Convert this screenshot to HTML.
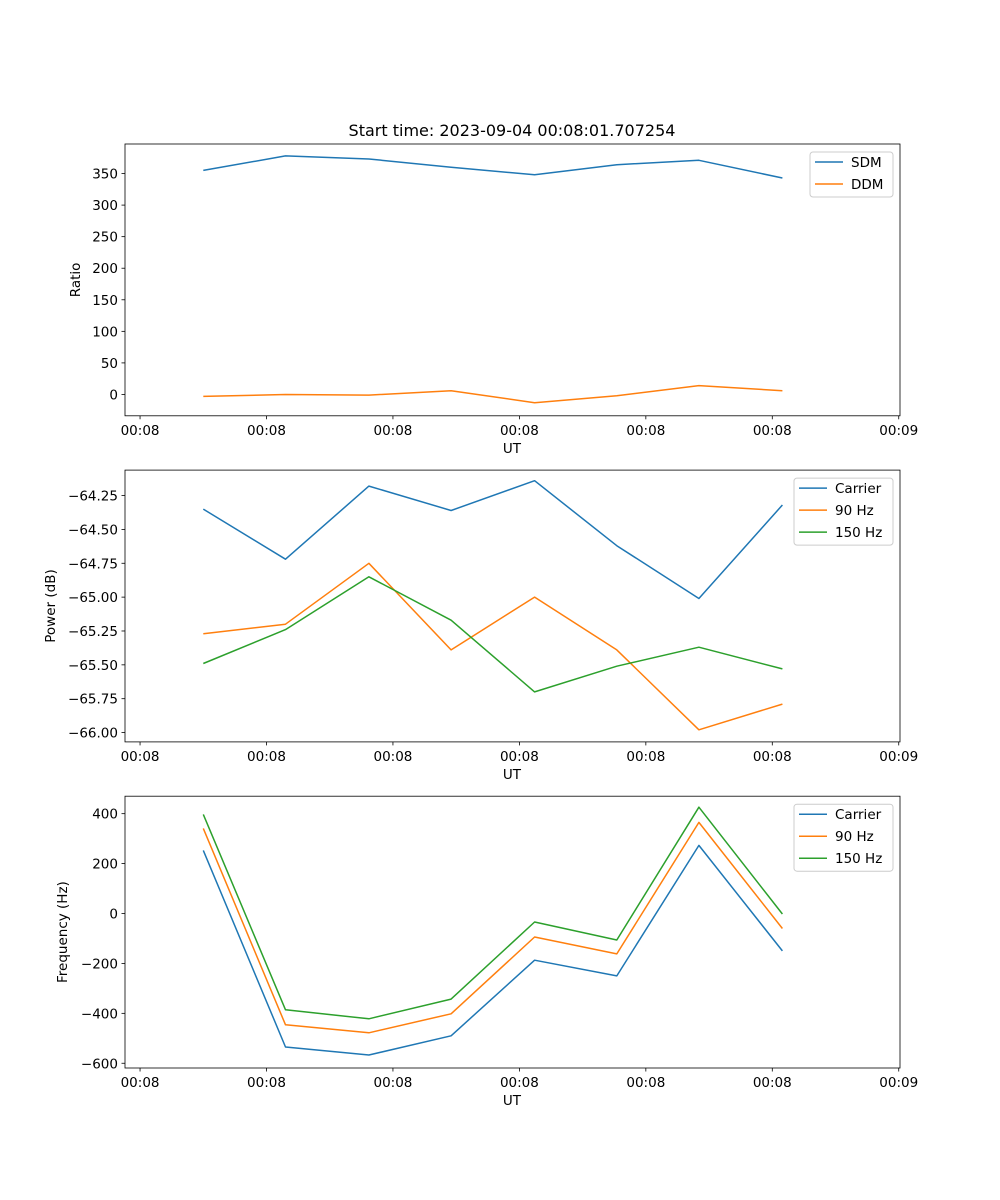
<!DOCTYPE html>
<html><head><meta charset="utf-8"><style>
body{margin:0;background:#fff}
svg{display:block;font-family:"DejaVu Sans","Liberation Sans",sans-serif}
</style></head><body>
<svg id="fig" width="1000" height="1200">
<text x="512" y="136" font-size="16" text-anchor="middle">Start time: 2023-09-04 00:08:01.707254</text>
</svg>
<script>
const times = [5.0, 11.5, 18.1, 24.6, 31.2, 37.7, 44.2, 50.8];
const xTicks = [0, 10, 20, 30, 40, 50, 60];
const xTickLabels = ["00:08","00:08","00:08","00:08","00:08","00:08","00:09"];
const sdm = [355, 378, 373, 360, 348, 364, 371, 343];
const ddm = [-3, 0, -1, 6, -13, -2, 14, 6];
const p1Ticks = [0, 50, 100, 150, 200, 250, 300, 350];
const pwCarrier = [-64.35, -64.72, -64.18, -64.36, -64.14, -64.62, -65.01, -64.32];
const pw90 = [-65.27, -65.20, -64.75, -65.39, -65.00, -65.39, -65.98, -65.79];
const pw150 = [-65.49, -65.24, -64.85, -65.17, -65.70, -65.51, -65.37, -65.53];
const p2Ticks = [-64.25, -64.5, -64.75, -65.0, -65.25, -65.5, -65.75, -66.0];
const frCarrier = [253, -535, -567, -490, -187, -250, 273, -150];
const fr90 = [341, -446, -478, -402, -94, -162, 365, -60];
const fr150 = [397, -386, -422, -343, -34, -106, 426, -2];
const p3Ticks = [-600, -400, -200, 0, 200, 400];

const NS = "http://www.w3.org/2000/svg";
const svg = document.getElementById("fig");
function mk(tag, attrs, parent){const e=document.createElementNS(NS,tag);for(const k in attrs)e.setAttribute(k,attrs[k]);(parent||svg).appendChild(e);return e;}
const L=125,R=900;
const xMin=-1.19,xMax=60.1;
const xs=v=>L+(v-xMin)/(xMax-xMin)*(R-L);

function panel(idx, top, bot, yMin, yMax, yTicks, fmt, ylabel, series, legend){
  const ys=v=>bot-(v-yMin)/(yMax-yMin)*(bot-top);
  const g=mk("g",{});
  
  
  series.forEach(s=>{
    const pts=s.vals.map((v,i)=>xs(times[i]).toFixed(1)+","+ys(v).toFixed(1)).join(" ");
    const pl=mk("polyline",{points:pts,fill:"none",stroke:s.color,"stroke-width":1.5,"stroke-linejoin":"round"},g);
    
    
  });
  const fr=mk("rect",{x:L,y:top,width:R-L,height:bot-top,fill:"none",stroke:"#000","stroke-width":0.8},g);
  
  
  xTicks.forEach((t,i)=>{
    const x=xs(t);
    mk("line",{x1:x,x2:x,y1:bot,y2:bot+3.5,stroke:"#000","stroke-width":0.8},g);
    const tx=mk("text",{x:x,y:bot+19,"font-size":13.5,"text-anchor":"middle"},g);
    tx.textContent=xTickLabels[i];
    
    
  });
  yTicks.forEach(t=>{
    const y=ys(t);
    mk("line",{x1:L-3.5,x2:L,y1:y,y2:y,stroke:"#000","stroke-width":0.8},g);
    const tx=mk("text",{x:L-7,y:y+5,"font-size":13.5,"text-anchor":"end"},g);
    tx.textContent=fmt(t);
    
    
  });
  const xl=mk("text",{x:512,y:bot+37,"font-size":13.5,"text-anchor":"middle"},g);
  xl.textContent="UT";
  
  
  const yl=mk("text",{transform:`translate(${legend.ylx},${(top+bot)/2}) rotate(-90)`,"font-size":13.5,"text-anchor":"middle"},g);
  yl.textContent=ylabel;
  
  
  const lg=mk("g",{},g);
  
  
  const h=1+series.length*22;
  mk("rect",{x:legend.x,y:top+8,width:R-7-legend.x,height:h,rx:3,fill:"#fff","fill-opacity":0.8,stroke:"#ccc","stroke-width":1},lg);
  series.forEach((s,i)=>{
    const y=top+18+i*22;
    mk("line",{x1:legend.x+5,x2:legend.x+33,y1:y,y2:y,stroke:s.color,"stroke-width":1.5},lg);
    const t=mk("text",{x:legend.x+41,y:y+5,"font-size":13.5},lg);
    t.textContent=s.name;
    
    
  });
}
const C1="#1f77b4",C2="#ff7f0e",C3="#2ca02c";
panel(1,144,415.8,-33.8,396.8,p1Ticks,v=>String(v),"Ratio",
  [{key:"sdm",name:"SDM",color:C1,vals:sdm},{key:"ddm",name:"DDM",color:C2,vals:ddm}],{x:810,ylx:80});
panel(2,470.1,741.9,-66.069,-64.062,p2Ticks,v=>v.toFixed(2).replace("-","−"),"Power (dB)",
  [{key:"carrier",name:"Carrier",color:C1,vals:pwCarrier},{key:"90hz",name:"90 Hz",color:C2,vals:pw90},{key:"150hz",name:"150 Hz",color:C3,vals:pw150}],{x:794,ylx:55});
panel(3,796.2,1068,-619,470,p3Ticks,v=>String(v).replace("-","−"),"Frequency (Hz)",
  [{key:"carrier",name:"Carrier",color:C1,vals:frCarrier},{key:"90hz",name:"90 Hz",color:C2,vals:fr90},{key:"150hz",name:"150 Hz",color:C3,vals:fr150}],{x:794,ylx:67});
</script>
</body></html>
